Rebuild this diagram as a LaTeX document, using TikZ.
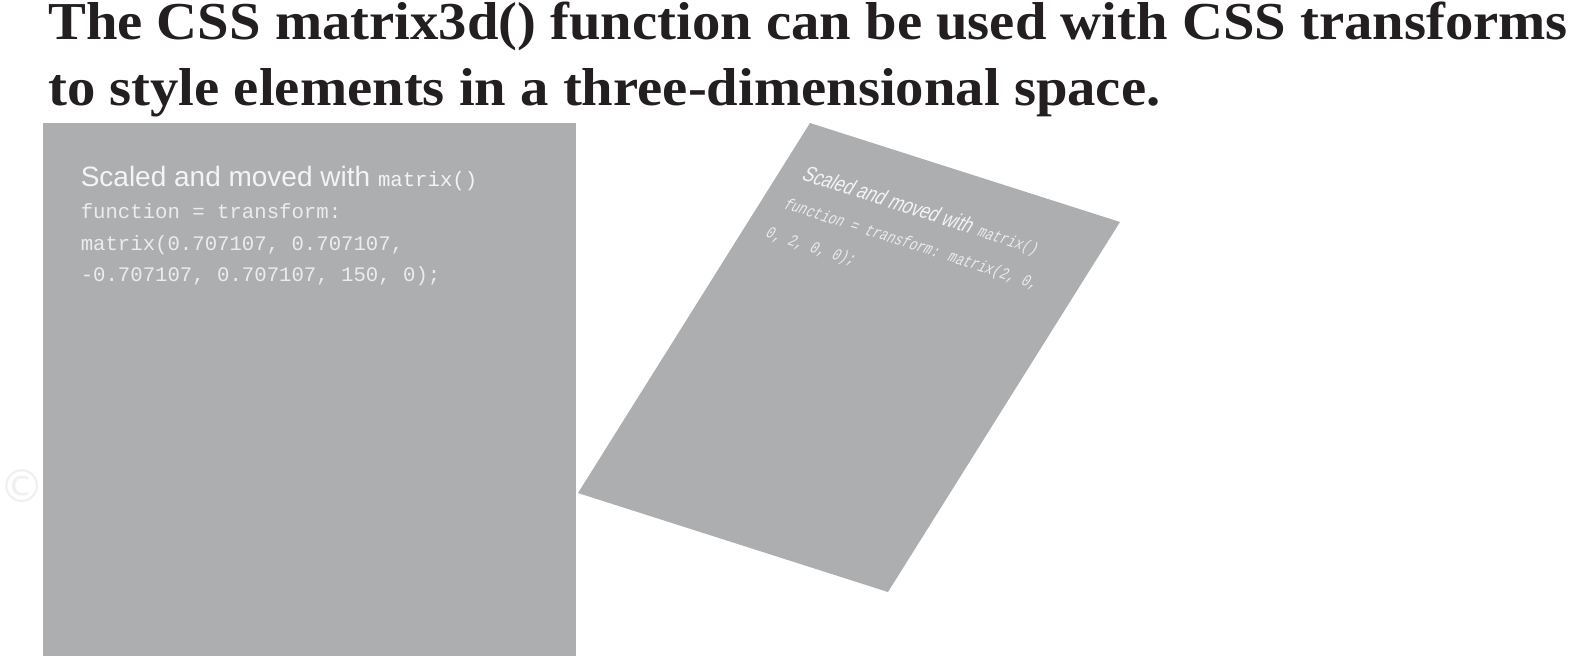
\documentclass[tikz,border=0pt]{standalone}
\usepackage{fontspec}
\setmainfont{Liberation Serif}
\newfontfamily\titlefont[FakeStretch=1.063]{Liberation Serif}
\newfontfamily\boxsans{Liberation Sans}
\newfontfamily\boxmono{Liberation Mono}
\newfontfamily\wmfont{DejaVu Sans}
\definecolor{boxgray}{RGB}{173,174,176}
\definecolor{titleink}{RGB}{35,31,32}
\definecolor{boxink}{RGB}{244,244,245}
\definecolor{monoink}{RGB}{236,236,238}
\tikzset{
  titletext/.style={anchor=base west, inner sep=0pt, text=titleink,
    font=\titlefont\bfseries\fontsize{40}{40}\selectfont},
  sanstext/.style={anchor=base west, inner sep=0pt, text=boxink,
    font=\boxsans\fontsize{21}{21}\selectfont},
  monotext/.style={anchor=base west, inner sep=0pt, text=monoink,
    font=\boxmono\fontsize{15.5}{15.5}\selectfont},
  blocktext/.style={anchor=north west, inner sep=0pt, text=monoink, align=left,
    font=\boxmono\fontsize{15.8}{31}\selectfont},
  panel/.style={fill=boxgray},
}
\begin{document}
\begin{tikzpicture}[x=0.75pt,y=-0.75pt]
\useasboundingbox (0,0) rectangle (1575,662);
% title
\node[titletext] (t1) at (48,39) {The CSS matrix3d() function can be used with CSS transforms};
\node[titletext] (t2) at (48,105) {to style elements in a three-dimensional space.};
% watermark
\node[inner sep=0pt, text=black!6, font=\wmfont\fontsize{34}{34}\selectfont] (wm) at (22,486) {©};
% left panel
\fill[panel] (43,123) rectangle (576,656);
\node[sanstext] (l1) at (80.5,186) {Scaled and moved with {\boxmono\fontsize{15.5}{15.5}\selectfont matrix()}};
\node[monotext] (l2) at (80.5,218) {function = transform:};
\node[monotext] (l3) at (80.5,250) {matrix(0.707107, 0.707107,};
\node[monotext] (l4) at (80.5,281.5) {-0.707107, 0.707107, 150, 0);};
% right panel (affine-transformed)
\begin{scope}[cm={0.5816,-0.1857,0.4353,0.6942,(607.5pt,-92.25pt)}]
\fill[panel] (0,0) rectangle (533,533);
\node[blocktext, transform shape] (r1) at (37,51)
  {{\color{boxink}\boxsans\fontsize{21}{31}\selectfont Scaled and moved with} matrix()\\
   function = transform: matrix(2, 0,\\
   0, 2, 0, 0);};
\end{scope}
\end{tikzpicture}
\end{document}
